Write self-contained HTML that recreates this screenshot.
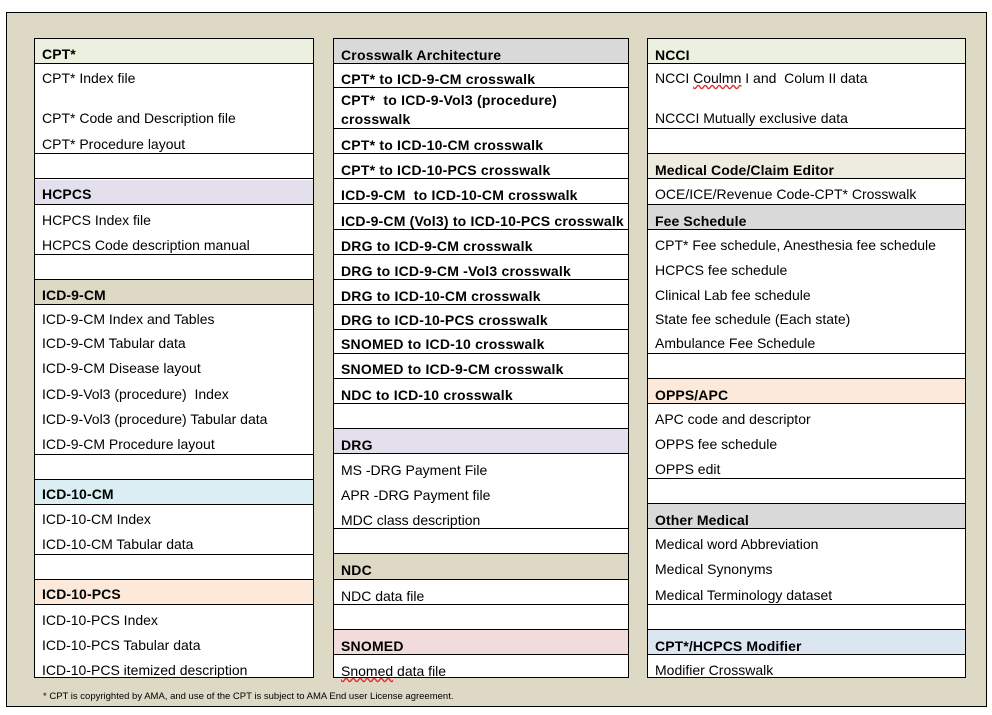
<!DOCTYPE html>
<html><head><meta charset="utf-8"><style>
body{margin:0;width:992px;height:715px;background:#fff;position:relative;overflow:hidden;font-family:"Liberation Sans",sans-serif;color:#000}
.frame{position:absolute;left:6px;top:12px;width:979px;height:693px;border:1px solid #000;background:#ddd9c4}
.col{position:absolute;top:38px;height:640px;background:#fff;border:1px solid #000;box-sizing:border-box}
.h{position:absolute;left:0;right:0}
.l{position:absolute;left:0;right:0;height:1px;background:#000}
.t{position:absolute;left:7px;height:18px;line-height:18px;font-size:14px;white-space:nowrap}
.b{font-weight:bold;font-size:14px;letter-spacing:0.1px}
.c2 .t{font-weight:bold;font-size:14px;letter-spacing:0.2px}
.c2 .n{font-weight:normal;font-size:14px;letter-spacing:0}
.foot{position:absolute;left:43px;top:691px;font-size:9.5px}
</style></head><body>
<div class="frame"></div>

<!-- Column 1 -->
<div class="col" style="left:34px;width:280px">
<div class="h" style="top:0;height:25px;background:#ebf1de"></div>
<div class="h" style="top:141px;height:25px;background:#e4dfec"></div>
<div class="h" style="top:241px;height:25px;background:#ddd9c4"></div>
<div class="h" style="top:441px;height:25px;background:#daeef3"></div>
<div class="h" style="top:541px;height:25px;background:#fde9d9"></div>
<div class="l" style="top:24px"></div><div class="l" style="top:114px"></div><div class="l" style="top:139px"></div><div class="l" style="top:165px"></div><div class="l" style="top:215px"></div><div class="l" style="top:240px"></div><div class="l" style="top:265px"></div><div class="l" style="top:415px"></div><div class="l" style="top:440px"></div><div class="l" style="top:465px"></div><div class="l" style="top:515px"></div><div class="l" style="top:540px"></div><div class="l" style="top:565px"></div>
<div class="t b" style="top:6px">CPT*</div>
<div class="t" style="top:30px">CPT* Index file</div>
<div class="t" style="top:70px">CPT* Code and Description file</div>
<div class="t" style="top:96px">CPT* Procedure layout</div>
<div class="t b" style="top:146px">HCPCS</div>
<div class="t" style="top:172px">HCPCS Index file</div>
<div class="t" style="top:197px">HCPCS Code description manual</div>
<div class="t b" style="top:247px">ICD-9-CM</div>
<div class="t" style="top:271px">ICD-9-CM Index and Tables</div>
<div class="t" style="top:295px">ICD-9-CM Tabular data</div>
<div class="t" style="top:320px">ICD-9-CM Disease layout</div>
<div class="t" style="top:346px">ICD-9-Vol3 (procedure)&nbsp; Index</div>
<div class="t" style="top:371px">ICD-9-Vol3 (procedure) Tabular data</div>
<div class="t" style="top:396px">ICD-9-CM Procedure layout</div>
<div class="t b" style="top:446px">ICD-10-CM</div>
<div class="t" style="top:471px">ICD-10-CM Index</div>
<div class="t" style="top:496px">ICD-10-CM Tabular data</div>
<div class="t b" style="top:546px">ICD-10-PCS</div>
<div class="t" style="top:572px">ICD-10-PCS Index</div>
<div class="t" style="top:597px">ICD-10-PCS Tabular data</div>
<div class="t" style="top:622px">ICD-10-PCS itemized description</div>
</div>

<!-- Column 2 -->
<div class="col c2" style="left:333px;width:296px">
<div class="h" style="top:0;height:25px;background:#d9d9d9"></div>
<div class="h" style="top:390px;height:25px;background:#e4dfec"></div>
<div class="h" style="top:515px;height:26px;background:#ddd9c4"></div>
<div class="h" style="top:591px;height:25px;background:#f2dcdb"></div>
<div class="l" style="top:24px"></div><div class="l" style="top:48px"></div><div class="l" style="top:89px"></div><div class="l" style="top:114px"></div><div class="l" style="top:139px"></div><div class="l" style="top:164px"></div><div class="l" style="top:190px"></div><div class="l" style="top:215px"></div><div class="l" style="top:240px"></div><div class="l" style="top:265px"></div><div class="l" style="top:290px"></div><div class="l" style="top:314px"></div><div class="l" style="top:339px"></div><div class="l" style="top:364px"></div><div class="l" style="top:389px"></div><div class="l" style="top:414px"></div><div class="l" style="top:489px"></div><div class="l" style="top:514px"></div><div class="l" style="top:540px"></div><div class="l" style="top:565px"></div><div class="l" style="top:590px"></div><div class="l" style="top:615px"></div>
<div class="t" style="top:7px">Crosswalk Architecture</div>
<div class="t" style="top:31px">CPT* to ICD-9-CM crosswalk</div>
<div class="t" style="top:52px">CPT*&nbsp; to ICD-9-Vol3 (procedure)</div>
<div class="t" style="top:71px">crosswalk</div>
<div class="t" style="top:97px">CPT* to ICD-10-CM crosswalk</div>
<div class="t" style="top:122px">CPT* to ICD-10-PCS crosswalk</div>
<div class="t" style="top:147px">ICD-9-CM&nbsp; to ICD-10-CM crosswalk</div>
<div class="t" style="top:173px">ICD-9-CM (Vol3) to ICD-10-PCS crosswalk</div>
<div class="t" style="top:198px">DRG to ICD-9-CM crosswalk</div>
<div class="t" style="top:223px">DRG to ICD-9-CM -Vol3 crosswalk</div>
<div class="t" style="top:248px">DRG to ICD-10-CM crosswalk</div>
<div class="t" style="top:272px">DRG to ICD-10-PCS crosswalk</div>
<div class="t" style="top:296px">SNOMED to ICD-10 crosswalk</div>
<div class="t" style="top:321px">SNOMED to ICD-9-CM crosswalk</div>
<div class="t" style="top:347px">NDC to ICD-10 crosswalk</div>
<div class="t" style="top:397px">DRG</div>
<div class="t n" style="top:422px">MS -DRG Payment File</div>
<div class="t n" style="top:447px">APR -DRG Payment file</div>
<div class="t n" style="top:472px">MDC class description</div>
<div class="t" style="top:522px">NDC</div>
<div class="t n" style="top:548px">NDC data file</div>
<div class="t" style="top:598px">SNOMED</div>
<div class="t n" style="top:623px"><span style="text-decoration:underline wavy #e03030">Snomed</span> data file</div>
</div>

<!-- Column 3 -->
<div class="col" style="left:647px;width:319px">
<div class="h" style="top:0;height:25px;background:#ebf1de"></div>
<div class="h" style="top:115px;height:25px;background:#eeece1"></div>
<div class="h" style="top:166px;height:25px;background:#d9d9d9"></div>
<div class="h" style="top:340px;height:25px;background:#fde9d9"></div>
<div class="h" style="top:465px;height:25px;background:#d9d9d9"></div>
<div class="h" style="top:591px;height:25px;background:#dce6f1"></div>
<div class="l" style="top:24px"></div><div class="l" style="top:89px"></div><div class="l" style="top:114px"></div><div class="l" style="top:139px"></div><div class="l" style="top:165px"></div><div class="l" style="top:190px"></div><div class="l" style="top:314px"></div><div class="l" style="top:339px"></div><div class="l" style="top:364px"></div><div class="l" style="top:439px"></div><div class="l" style="top:464px"></div><div class="l" style="top:489px"></div><div class="l" style="top:565px"></div><div class="l" style="top:590px"></div><div class="l" style="top:615px"></div>
<div class="t b" style="top:7px">NCCI</div>
<div class="t" style="top:30px">NCCI <span style="text-decoration:underline wavy #e03030">Coulmn</span> I and&nbsp; Colum II data</div>
<div class="t" style="top:70px">NCCCI Mutually exclusive data</div>
<div class="t b" style="top:122px">Medical Code/Claim Editor</div>
<div class="t" style="top:146px">OCE/ICE/Revenue Code-CPT* Crosswalk</div>
<div class="t b" style="top:173px">Fee Schedule</div>
<div class="t" style="top:197px">CPT* Fee schedule, Anesthesia fee schedule</div>
<div class="t" style="top:222px">HCPCS fee schedule</div>
<div class="t" style="top:247px">Clinical Lab fee schedule</div>
<div class="t" style="top:271px">State fee schedule (Each state)</div>
<div class="t" style="top:295px">Ambulance Fee Schedule</div>
<div class="t b" style="top:347px">OPPS/APC</div>
<div class="t" style="top:371px">APC code and descriptor</div>
<div class="t" style="top:396px">OPPS fee schedule</div>
<div class="t" style="top:421px">OPPS edit</div>
<div class="t b" style="top:472px">Other Medical</div>
<div class="t" style="top:496px">Medical word Abbreviation</div>
<div class="t" style="top:521px">Medical Synonyms</div>
<div class="t" style="top:547px">Medical Terminology dataset</div>
<div class="t b" style="top:598px">CPT*/HCPCS Modifier</div>
<div class="t" style="top:622px">Modifier Crosswalk</div>
</div>

<div class="foot">* CPT is copyrighted by AMA, and use of the CPT is subject to AMA End user License agreement.</div>
</body></html>
